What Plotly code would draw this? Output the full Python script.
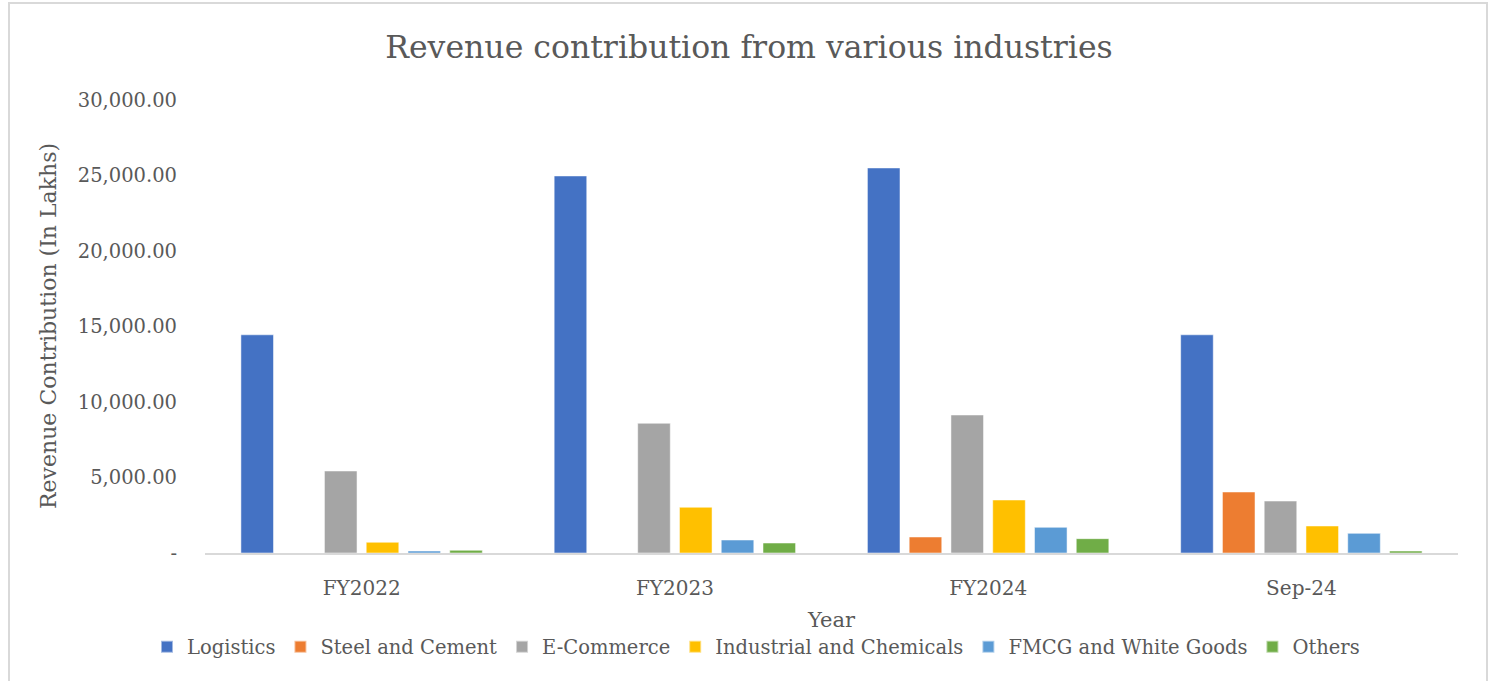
import plotly.graph_objects as go

categories = ["FY2022", "FY2023", "FY2024", "Sep-24"]
logistics = [14450, 24970, 25500, 14450]
steel_cement = [0, 0, 1060, 4040]
e_commerce = [5430, 8590, 9140, 3440]
industrial_chemicals = [710, 3030, 3510, 1790]
fmcg_white_goods = [130, 860, 1700, 1300]
others = [180, 660, 950, 130]

series_names = ["Logistics", "Steel and Cement", "E-Commerce",
                "Industrial and Chemicals", "FMCG and White Goods", "Others"]
series_values = [logistics, steel_cement, e_commerce,
                 industrial_chemicals, fmcg_white_goods, others]
colors = ["#4472C4", "#ED7D31", "#A5A5A5", "#FFC000", "#5B9BD5", "#70AD47"]

tick_vals = [0, 5000, 10000, 15000, 20000, 25000, 30000]
tick_text = ["-", "5,000.00", "10,000.00", "15,000.00", "20,000.00", "25,000.00", "30,000.00"]

FONT = "DejaVu Serif"
GRAY = "#595959"

fig = go.Figure()
for name, vals, c in zip(series_names, series_values, colors):
    fig.add_trace(go.Bar(x=categories, y=vals, name=name,
                         marker=dict(color=c, line=dict(color="rgba(255,255,255,0.5)", width=1))))

fig.update_layout(
    width=1491, height=681, autosize=False,
    paper_bgcolor="white", plot_bgcolor="white",
    margin=dict(l=205, r=33, t=100, b=128),
    barmode="group", bargap=0.2, bargroupgap=0.22,
    font=dict(family=FONT, color=GRAY, size=20),
    title=dict(text="Revenue contribution from various industries",
               x=749/1491, xref="container", xanchor="center", y=1 - 47/681, yanchor="middle",
               font=dict(family=FONT, size=31.5, color=GRAY)),
    showlegend=True,
    legend=dict(orientation="h", x=756/1491, xref="container", xanchor="center",
                y=1 - 647/681, yref="container", yanchor="middle",
                font=dict(family=FONT, size=19.5, color=GRAY),
                itemsizing="constant", tracegroupgap=0),
    xaxis=dict(showgrid=False, showline=True, linecolor="#D9D9D9", linewidth=2,
               ticks="", tickfont=dict(family=FONT, size=20, color=GRAY),
               ticklabelstandoff=16),
    yaxis=dict(range=[0, 30000], tickvals=tick_vals, ticktext=tick_text,
               showgrid=False, showline=False, zeroline=False, ticks="",
               tickfont=dict(family=FONT, size=19.5, color=GRAY),
               ticklabelstandoff=27),
    annotations=[
        dict(text="Year", xref="paper", yref="paper", x=(831-205)/1253, y=-(620-553)/453,
             xanchor="center", yanchor="middle", showarrow=False,
             font=dict(family=FONT, size=21, color=GRAY)),
        dict(text="Revenue Contribution (In Lakhs)", xref="paper", yref="paper",
             x=-(205-48)/1253, y=(553-326)/453, xanchor="center", yanchor="middle",
             textangle=-90, showarrow=False,
             font=dict(family=FONT, size=22, color=GRAY)),
    ],
    shapes=[dict(type="rect", xref="paper", yref="paper",
                 x0=-(205-9)/1253, x1=1 + (1487-1458)/1253,
                 y0=-(681-553+5)/453, y1=1 + (100-3)/453,
                 line=dict(color="#D9D9D9", width=2), layer="below")],
)

fig.write_html("out.html")
